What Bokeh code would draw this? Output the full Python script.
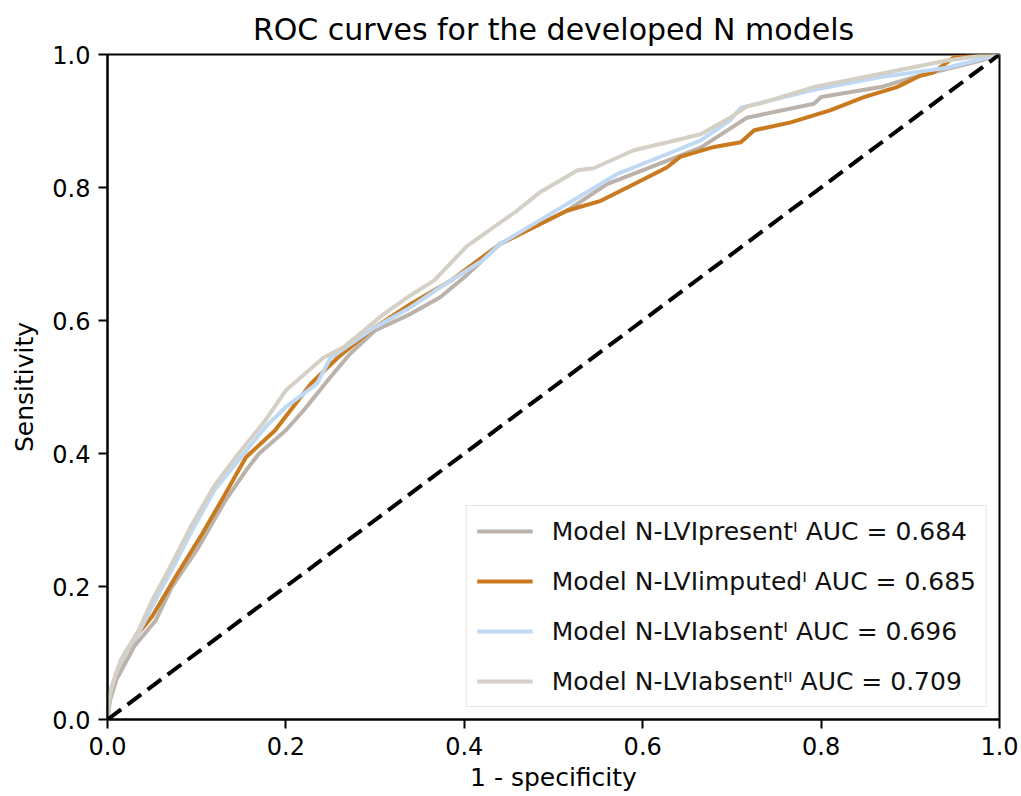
from bokeh.plotting import figure
from bokeh.models import Range1d, Legend, LegendItem, PrintfTickFormatter
from bokeh.embed import file_html
from bokeh.resources import INLINE

title_text = "ROC curves for the developed N models"
x_label = "1 - specificity"
y_label = "Sensitivity"
tick_values = [0.0, 0.2, 0.4, 0.6, 0.8, 1.0]

present_fpr = [0, 0.003, 0.01, 0.03, 0.054, 0.072, 0.102, 0.132, 0.155, 0.17, 0.2, 0.22, 0.25, 0.272, 0.30, 0.34, 0.373, 0.40, 0.44, 0.515, 0.56, 0.627, 0.665, 0.717, 0.792, 0.80, 0.867, 0.904, 0.941, 0.979, 1.0]
present_tpr = [0, 0.03, 0.06, 0.11, 0.149, 0.199, 0.259, 0.329, 0.374, 0.40, 0.435, 0.465, 0.515, 0.55, 0.585, 0.61, 0.635, 0.665, 0.715, 0.765, 0.805, 0.84, 0.86, 0.905, 0.926, 0.936, 0.951, 0.966, 0.978, 0.991, 1.0]

imputed_fpr = [0, 0.003, 0.01, 0.02, 0.035, 0.05, 0.076, 0.106, 0.132, 0.155, 0.188, 0.228, 0.258, 0.30, 0.34, 0.385, 0.44, 0.515, 0.553, 0.59, 0.627, 0.642, 0.68, 0.71, 0.725, 0.766, 0.81, 0.848, 0.885, 0.911, 0.926, 0.949, 1.0]
imputed_tpr = [0, 0.04, 0.07, 0.10, 0.13, 0.155, 0.214, 0.279, 0.339, 0.394, 0.435, 0.505, 0.544, 0.59, 0.625, 0.66, 0.715, 0.765, 0.78, 0.805, 0.83, 0.846, 0.861, 0.868, 0.886, 0.898, 0.916, 0.936, 0.951, 0.968, 0.973, 0.996, 1.0]

absent1_fpr = [0, 0.003, 0.01, 0.02, 0.035, 0.05, 0.072, 0.095, 0.12, 0.147, 0.177, 0.2, 0.235, 0.25, 0.3, 0.34, 0.373, 0.42, 0.44, 0.515, 0.571, 0.627, 0.665, 0.698, 0.71, 0.792, 0.867, 0.941, 1.0]
absent1_tpr = [0, 0.04, 0.07, 0.10, 0.13, 0.17, 0.225, 0.285, 0.345, 0.39, 0.44, 0.47, 0.505, 0.544, 0.59, 0.62, 0.65, 0.69, 0.715, 0.775, 0.82, 0.85, 0.871, 0.901, 0.92, 0.947, 0.966, 0.98, 1.0]

absent2_fpr = [0, 0.002, 0.005, 0.015, 0.035, 0.05, 0.072, 0.095, 0.121, 0.147, 0.177, 0.2, 0.242, 0.265, 0.31, 0.34, 0.366, 0.403, 0.459, 0.485, 0.527, 0.545, 0.59, 0.628, 0.665, 0.698, 0.717, 0.728, 0.792, 0.867, 0.941, 0.979, 1.0]
absent2_tpr = [0, 0.03, 0.05, 0.09, 0.134, 0.179, 0.234, 0.294, 0.354, 0.40, 0.45, 0.495, 0.544, 0.56, 0.61, 0.638, 0.66, 0.712, 0.765, 0.793, 0.826, 0.829, 0.856, 0.868, 0.88, 0.905, 0.922, 0.925, 0.951, 0.971, 0.991, 0.998, 1.0]

diag = [0.0, 1.0]

labels = [
    "Model N-LVIpresent\u1d35 AUC = 0.684",
    "Model N-LVIimputed\u1d35 AUC = 0.685",
    "Model N-LVIabsent\u1d35 AUC = 0.696",
    "Model N-LVIabsent\u1d35\u1d35 AUC = 0.709",
]
colors = ["#bbb3ab", "#c97a1f", "#bfd9f4", "#d5d0c5"]

FONT = "DejaVu Sans"

p = figure(width=1021, height=796, output_backend="svg", toolbar_location=None,
           x_range=Range1d(0, 1), y_range=Range1d(0, 1),
           min_border_left=107, min_border_right=22, min_border_top=54, min_border_bottom=77)
p.title.text = title_text
p.title.text_font = FONT
p.title.text_font_size = "30px"
p.title.text_font_style = "normal"
p.title.text_color = "black"
p.title.align = "center"
p.title.standoff = 16

p.grid.visible = False
p.outline_line_color = "black"
p.outline_line_width = 2
p.background_fill_color = "white"
p.border_fill_color = "white"

for ax in (p.xaxis[0], p.yaxis[0]):
    ax.ticker = tick_values
    ax.formatter = PrintfTickFormatter(format="%.1f")
    ax.minor_tick_line_color = None
    ax.major_tick_in = 0
    ax.major_tick_out = 9
    ax.major_tick_line_width = 2
    ax.axis_line_width = 2
    ax.major_label_text_font = FONT
    ax.major_label_text_font_size = "24px"
    ax.major_label_text_color = "black"
    ax.axis_label_text_font = FONT
    ax.axis_label_text_font_size = "25px"
    ax.axis_label_text_font_style = "normal"
    ax.axis_label_text_color = "black"
p.xaxis[0].axis_label = x_label
p.yaxis[0].axis_label = y_label
p.xaxis[0].major_label_standoff = 8
p.xaxis[0].axis_label_standoff = 5
p.yaxis[0].major_label_standoff = 8
p.yaxis[0].axis_label_standoff = 10

series = [(present_fpr, present_tpr), (imputed_fpr, imputed_tpr),
          (absent1_fpr, absent1_tpr), (absent2_fpr, absent2_tpr)]
items = []
for (fx, ty), c, lab in zip(series, colors, labels):
    r = p.line(fx, ty, line_color=c, line_width=4)
    items.append(LegendItem(label=lab, renderers=[r]))

p.line(diag, diag, line_color="black", line_width=4, line_dash="17 8")

legend = Legend(items=items, location="bottom_right")
legend.label_text_font = FONT
legend.label_text_font_size = "25px"
legend.label_text_color = "#111111"
legend.glyph_width = 56
legend.glyph_height = 30
legend.label_height = 30
legend.label_standoff = 19
legend.spacing = 20
legend.padding = 10
legend.margin = 12
legend.border_line_color = "#cccccc"
legend.border_line_width = 1.5
legend.background_fill_color = "white"
legend.background_fill_alpha = 0.8
p.add_layout(legend)

open("out.html", "w").write(file_html(p, INLINE))
